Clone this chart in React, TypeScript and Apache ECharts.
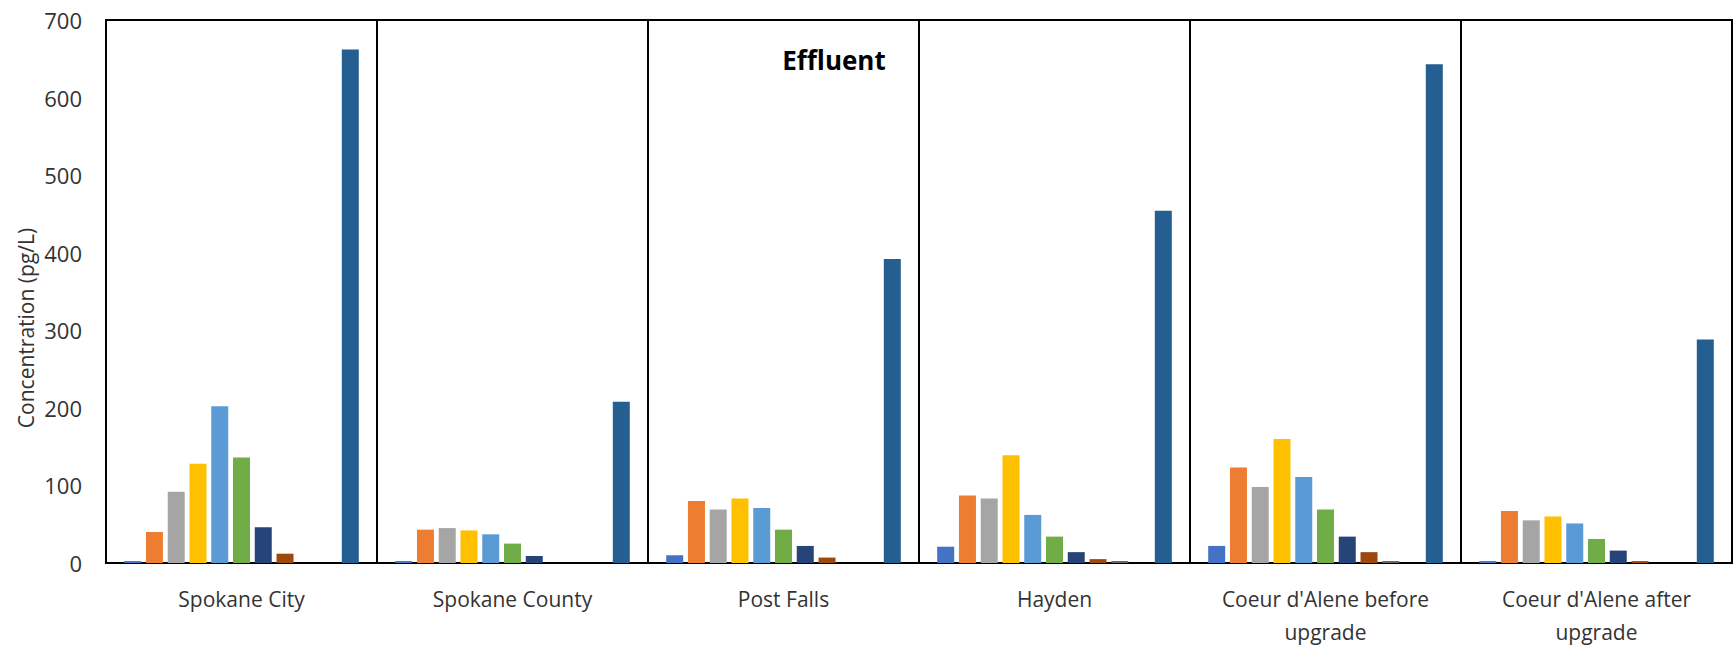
import React, { useEffect, useRef } from "react";
import * as echarts from "echarts";

const sites = [
  "Spokane City",
  "Spokane County",
  "Post Falls",
  "Hayden",
  "Coeur d'Alene before\nupgrade",
  "Coeur d'Alene after\nupgrade",
];

const seriesNames = [
  "MonoCB", "DiCB", "TriCB", "TetraCB", "PentaCB",
  "HexaCB", "HeptaCB", "OctaCB", "NonaCB", "DecaCB", "Total PCBs",
];

const monoCB = [2.5, 2.5, 10, 21, 22, 2.5];
const diCB = [40, 43, 80, 87, 123, 67];
const triCB = [92, 45, 69, 83, 98, 55];
const tetraCB = [128, 42, 83, 139, 160, 60];
const pentaCB = [202, 37, 71, 62, 111, 51];
const hexaCB = [136, 25, 43, 34, 69, 31];
const heptaCB = [46, 9, 22, 14, 34, 16];
const octaCB = [12, 0, 7, 5, 14, 2.5];
const nonaCB = [0, 0, 0, 2.5, 2.5, 0];
const decaCB = [0, 0, 0, 0, 0, 0];
const totalPCB = [662, 208, 392, 454, 643, 288];

const seriesValues = [monoCB, diCB, triCB, tetraCB, pentaCB, hexaCB, heptaCB, octaCB, nonaCB, decaCB, totalPCB];

const colors = [
  "#4472C4", "#ED7D31", "#A5A5A5", "#FFC000", "#5B9BD5",
  "#70AD47", "#264478", "#9E480E", "#636363", "#997300", "#255E91",
];

const FONT = "'Open Sans', sans-serif";

export default function App() {
  const ref = useRef<HTMLDivElement>(null);
  useEffect(() => {
    document.body.style.margin = "0";
    if (!ref.current) return;
    const chart = echarts.init(ref.current, undefined, { renderer: "svg" });
    chart.setOption({
      animation: false,
      color: colors,
      grid: { left: 106, right: 2, top: 20, bottom: 85, show: true, borderColor: "#000", borderWidth: 2 },
      xAxis: {
        type: "category",
        data: sites,
        axisLine: { lineStyle: { color: "#000", width: 2 } },
        axisTick: { show: false },
        splitLine: { show: true, lineStyle: { color: "#000", width: 2 } },
        axisLabel: {
          color: "#333",
          fontFamily: FONT,
          fontSize: 21,
          lineHeight: 33,
          margin: 19,
          interval: 0,
        },
      },
      yAxis: {
        type: "value",
        min: 0,
        max: 700,
        interval: 100,
        axisLine: { show: true, lineStyle: { color: "#000", width: 2 } },
        axisTick: { show: false },
        splitLine: { show: false },
        axisLabel: { color: "#333", fontFamily: FONT, fontSize: 22, margin: 24 },
      },
      graphic: [
        {
          type: "text",
          x: 26,
          y: 328,
          rotation: Math.PI / 2,
          style: {
            text: "Concentration (pg/L)",
            fill: "#333",
            font: `21px ${FONT}`,
            textAlign: "center",
            textVerticalAlign: "middle",
          },
        },
        {
          type: "text",
          x: 834,
          y: 60,
          style: {
            text: "Effluent",
            fill: "#000",
            font: `bold 26px ${FONT}`,
            textAlign: "center",
            textVerticalAlign: "middle",
          },
        },
      ],
      series: seriesValues.map((vals, i) => ({
        name: seriesNames[i],
        type: "bar",
        data: vals,
        barWidth: 17,
        barGap: "28%",
        itemStyle: { color: colors[i] },
      })),
    });
    return () => chart.dispose();
  }, []);
  return <div ref={ref} style={{ width: 1734, height: 648 }} />;
}
